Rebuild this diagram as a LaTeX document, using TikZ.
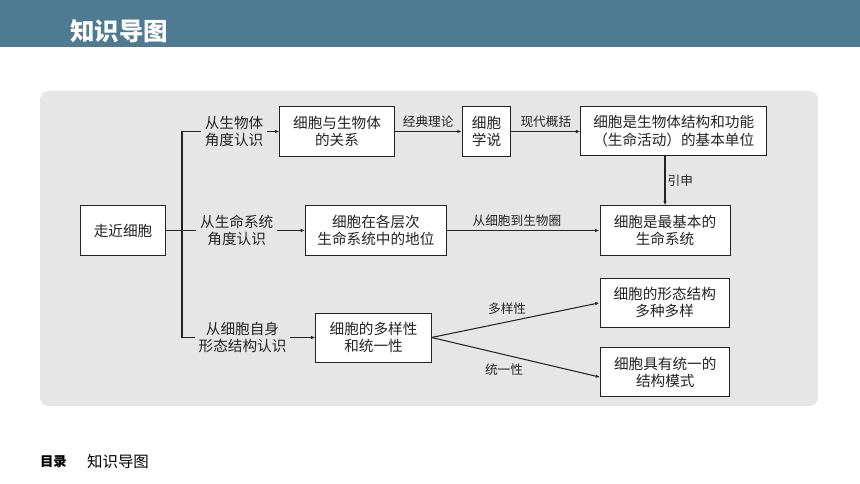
\documentclass[tikz,border=0pt]{standalone}
\usepackage{xcolor}
\usepackage{tikz}
\usepackage{fontspec}
\setmainfont{Noto Sans CJK SC}
\definecolor{headerblue}{RGB}{78, 122, 146}
\definecolor{panelgray}{RGB}{230, 230, 230}
\definecolor{inkgray}{RGB}{35, 35, 35}
\usetikzlibrary{arrows.meta, positioning}

\begin{document}
\begin{tikzpicture}[
    x=0.025cm, y=-0.025cm,
    concept/.style={rectangle, draw=inkgray, fill=white, line width=0.7pt, inner sep=0pt, minimum height=1.225cm, align=center, text=inkgray, font=\fontsize{10.4}{12.2}\selectfont},
    branch/.style={inner sep=2.5pt, align=center, text=inkgray, font=\fontsize{10.4}{12.2}\selectfont},
    elabel/.style={inner sep=1.5pt, text=inkgray, font=\fontsize{9}{10}\selectfont},
    link/.style={draw=inkgray, line width=0.75pt},
    arrow/.style={link, -{Latex[length=3.2pt, width=2.4pt]}}
]
    \useasboundingbox (0,0) rectangle (860,484);
    \fill[headerblue] (0,0) rectangle (860,47);
    \fill[panelgray, rounded corners=6pt] (40,91) rectangle (818,406);

    \node[text=white, font=\fontsize{17.4}{20}\selectfont\bfseries] (title) at (119,31.5) {知识导图};

    \node[concept, minimum width=2.1cm] (start) at (123,230.5) {走近细胞};
    \node[concept, minimum width=2.85cm] (relation) at (337,131.5) {细胞与生物体\\的关系};
    \node[concept, minimum width=1.21cm] (theory) at (486.5,131.5) {细胞\\学说};
    \node[concept, minimum width=4.64cm] (unit) at (673.8,131) {细胞是生物体结构和功能\\（生命活动）的基本单位};
    \node[concept, minimum width=3.51cm] (level) at (375.9,230.5) {细胞在各层次\\生命系统中的地位};
    \node[concept, minimum width=3.25cm] (system) at (665,230.5) {细胞是最基本的\\生命系统};
    \node[concept, minimum width=2.875cm] (diversity) at (373.5,337.5) {细胞的多样性\\和统一性};
    \node[concept, minimum width=3.23cm] (variety) at (664.7,302.8) {细胞的形态结构\\多种多样};
    \node[concept, minimum width=3.23cm] (pattern) at (665.3,372.2) {细胞具有统一的\\结构模式};

    \node[branch] (view1) at (234,131.5) {从生物体\\角度认识};
    \node[branch] (view2) at (236.7,230.5) {从生命系统\\角度认识};
    \node[branch] (view3) at (242.5,337.5) {从细胞自身\\形态结构认识};
    \coordinate (fork) at (182,230.5);

    \draw[link] (view1.west) -| (fork) |- (view3.west);
    \draw[link] (start.east) -- (view2.west);
    \draw[arrow] (view1.east) -- (relation.west);
    \draw[arrow] (view2.east) -- (level.west);
    \draw[arrow] (view3.east) -- (diversity.west);

    \draw[arrow] (relation.east) -- node[elabel, above=1pt] {经典理论} (theory.west);
    \draw[arrow] (theory.east) -- node[elabel, above=1pt] {现代概括} (theory.east -| unit.west);
    \draw[arrow] (unit.south -| system.north) -- node[elabel, right] {引申} (system.north);
    \draw[arrow] (level.east) -- node[elabel, pos=0.46, above=1pt] {从细胞到生物圈} (system.west);
    \draw[arrow] (diversity.east) -- node[elabel, pos=0.45, above=3.5pt] {多样性} (variety.west);
    \draw[arrow] (diversity.east) -- node[elabel, pos=0.43, below=5pt] {统一性} ([yshift=-0.125cm]pattern.west);

    \node[inner sep=0pt, font=\fontsize{9.5}{11}\selectfont\bfseries] (toc) at (53.5,462) {目录};
    \node[inner sep=0pt, font=\fontsize{11}{13}\selectfont] (toctitle) at (118,462) {知识导图};
\end{tikzpicture}
\end{document}
